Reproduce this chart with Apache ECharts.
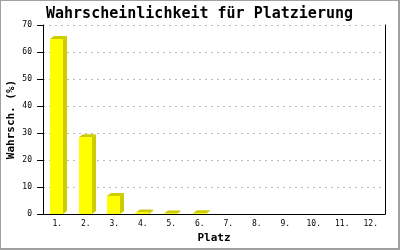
<!DOCTYPE html>
<html><head><meta charset="utf-8">
<script src="https://cdn.jsdelivr.net/npm/echarts@6/dist/echarts.min.js"></script>
<style>
html,body{margin:0;padding:0;background:#fff;}
#c{width:397px;height:247px;border-left:1px solid #a0a0a0;border-top:1px solid #a0a0a0;border-right:2px solid #a0a0a0;border-bottom:2px solid #a0a0a0;}
</style></head>
<body><div id="c"></div>
<script>
var titleText = 'Wahrscheinlichkeit für Platzierung';
var categories = ['1.','2.','3.','4.','5.','6.','7.','8.','9.','10.','11.','12.'];
var values = [64.8, 28.4, 6.7, 0.6, 0.2, 0.3, 0, 0, 0, 0, 0, 0];
var yTicks = [0, 10, 20, 30, 40, 50, 60, 70];

var mono = '"DejaVu Sans Mono", "Liberation Mono", monospace';
var chart = echarts.init(document.getElementById('c'), null, {renderer:'canvas'});
var data = values.map(function(v,i){return [i,v];});
chart.setOption({
  animation:false,
  title:{text:titleText,left:'center',top:1,textStyle:{fontFamily:mono,fontSize:15,fontWeight:'bold',color:'#000'}},
  grid:{left:42,right:13,top:24,bottom:34,containLabel:false,outerBoundsMode:'none'},
  xAxis:{type:'category',data:categories,
    axisLine:{lineStyle:{color:'#000',width:1}},axisTick:{show:false},
    axisLabel:{fontFamily:mono,fontSize:8,color:'#000',margin:6,interval:0},
    name:'Platz',nameLocation:'middle',nameGap:19,nameMoveOverlap:false,
    nameTextStyle:{fontFamily:mono,fontSize:11,fontWeight:'bold',color:'#000'}},
  yAxis:[{type:'value',min:yTicks[0],max:yTicks[yTicks.length-1],interval:10,
    axisLine:{show:true,lineStyle:{color:'#000',width:1}},
    axisTick:{show:true,length:6,lineStyle:{color:'#000'}},
    axisLabel:{fontFamily:mono,fontSize:8,color:'#000',margin:11},
    splitLine:{show:true,lineStyle:{color:'#bbbbbb',type:[2,4],width:1}},
    name:'Wahrsch. (%)',nameLocation:'middle',nameGap:26,nameMoveOverlap:false,
    nameTextStyle:{fontFamily:mono,fontSize:11,fontWeight:'bold',color:'#000'}},
   {type:'value',min:0,max:70,interval:10,position:'right',
    axisLine:{show:true,lineStyle:{color:'#000',width:1}},axisTick:{show:false},axisLabel:{show:false},splitLine:{show:false}}],
  series:[{type:'custom',data:data,
    renderItem:function(params,api){
      var v=api.value(1);
      if(!v) return null;
      var top=api.coord([api.value(0),v]);
      var base=api.coord([api.value(0),0]);
      var bw=api.size([1,0])[0];
      var w=Math.round(bw*0.46);
      var x0=Math.round(top[0]-w/2-0.5);
      var x1=x0+w;
      var yt=top[1], yb=base[1];
      var dx=4, dy=3;
      return {type:'group',children:[
        {type:'polygon',shape:{points:[[x1,yb],[x1,yt],[x1+dx,yt-dy],[x1+dx,yb-dy]]},style:{fill:'#cccc00'}},
        {type:'polygon',shape:{points:[[x0,yt],[x0+dx,yt-dy],[x1+dx,yt-dy],[x1,yt]]},style:{fill:'#cccc00'}},
        {type:'rect',shape:{x:x0,y:yt,width:w,height:yb-yt},style:{fill:'#ffff00'}}
      ]};
    }}]
});
</script></body></html>
